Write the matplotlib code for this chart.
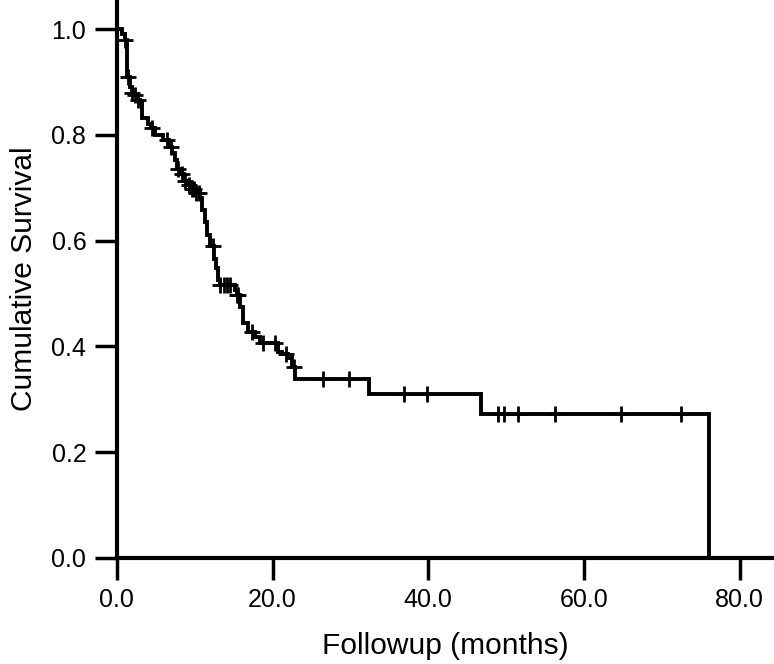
import numpy as np
import matplotlib.pyplot as plt
from matplotlib import font_manager

# Kaplan-Meier steps: time (months) and survival after the step
step_t = [0.0, 0.6, 1.0, 1.3, 1.7, 1.9, 2.2, 2.6, 3.0, 3.2, 4.0, 4.4, 4.9, 5.9, 6.7,
          7.1, 7.5, 7.7, 8.2, 8.6, 9.1, 9.6, 10.2, 10.7, 10.9, 11.3, 11.6, 12.0,
          12.5, 12.7, 13.0, 13.2, 15.2, 15.4, 15.8, 16.2, 16.8, 17.7, 18.4, 20.7,
          21.2, 22.0, 22.5, 22.9, 32.4, 46.8, 76.0]
step_s = [1.0, 0.99, 0.98, 0.91, 0.89, 0.88, 0.875, 0.866, 0.86, 0.832, 0.82, 0.813,
          0.80, 0.79, 0.777, 0.765, 0.752, 0.735, 0.725, 0.712, 0.705, 0.697, 0.69,
          0.68, 0.658, 0.635, 0.61, 0.59, 0.566, 0.548, 0.525, 0.516, 0.507, 0.497,
          0.474, 0.444, 0.427, 0.418, 0.406, 0.389, 0.385, 0.378, 0.361, 0.338,
          0.309, 0.271, 0.0]

# censored observations
cens_t = [1.0, 1.4, 1.9, 2.3, 2.7, 4.5, 6.4, 6.9, 7.9, 8.4, 8.8, 9.3, 9.6, 9.9, 10.2,
          10.5, 12.3, 13.3, 13.7, 14.1, 14.5, 15.4, 15.6, 17.3, 18.8, 20.3, 21.7,
          22.8, 26.5, 29.8, 36.9, 39.8, 48.9, 49.7, 51.5, 56.3, 64.8, 72.5]

xticks = [0, 20, 40, 60, 80]
yticks = [0.0, 0.2, 0.4, 0.6, 0.8, 1.0]

names = {f.name for f in font_manager.fontManager.ttflist}
tick_font = 'Liberation Sans Narrow' if 'Liberation Sans Narrow' in names else 'Liberation Sans'


def surv_at(t):
    # survival value just at time t (right-continuous step)
    idx = np.searchsorted(step_t, t, side='right') - 1
    return step_s[idx]


fig = plt.figure(figsize=(7.74, 6.64), dpi=100)
ax = fig.add_axes([0.151, 0.16, 0.849, 0.84])

ax.step(step_t, step_s, where='post', color='black', lw=2.8, solid_joinstyle='miter')
ax.plot(cens_t, [surv_at(t) for t in cens_t], ls='none', marker='+', ms=11,
        mew=2.0, color='black')

ax.set_xlim(0, 84.4)
ax.set_ylim(0, 1.055)
ax.set_xticks(xticks)
ax.set_xticklabels(['%.1f' % v for v in xticks])
ax.set_yticks(yticks)
ax.set_yticklabels(['%.1f' % v for v in yticks])

for side in ['top', 'right']:
    ax.spines[side].set_visible(False)
for side in ['left', 'bottom']:
    ax.spines[side].set_linewidth(3)
ax.tick_params(length=16, width=2.5, direction='out', pad=6)
for lab in ax.get_xticklabels() + ax.get_yticklabels():
    lab.set_fontfamily(tick_font)
    lab.set_fontsize(18)

ax.set_xlabel('Followup (months)', fontsize=21.5, family='Liberation Sans', labelpad=14)
ax.set_ylabel('Cumulative Survival', fontsize=21.5, family='Liberation Sans', labelpad=10)

plt.savefig('out.png', dpi=100)
